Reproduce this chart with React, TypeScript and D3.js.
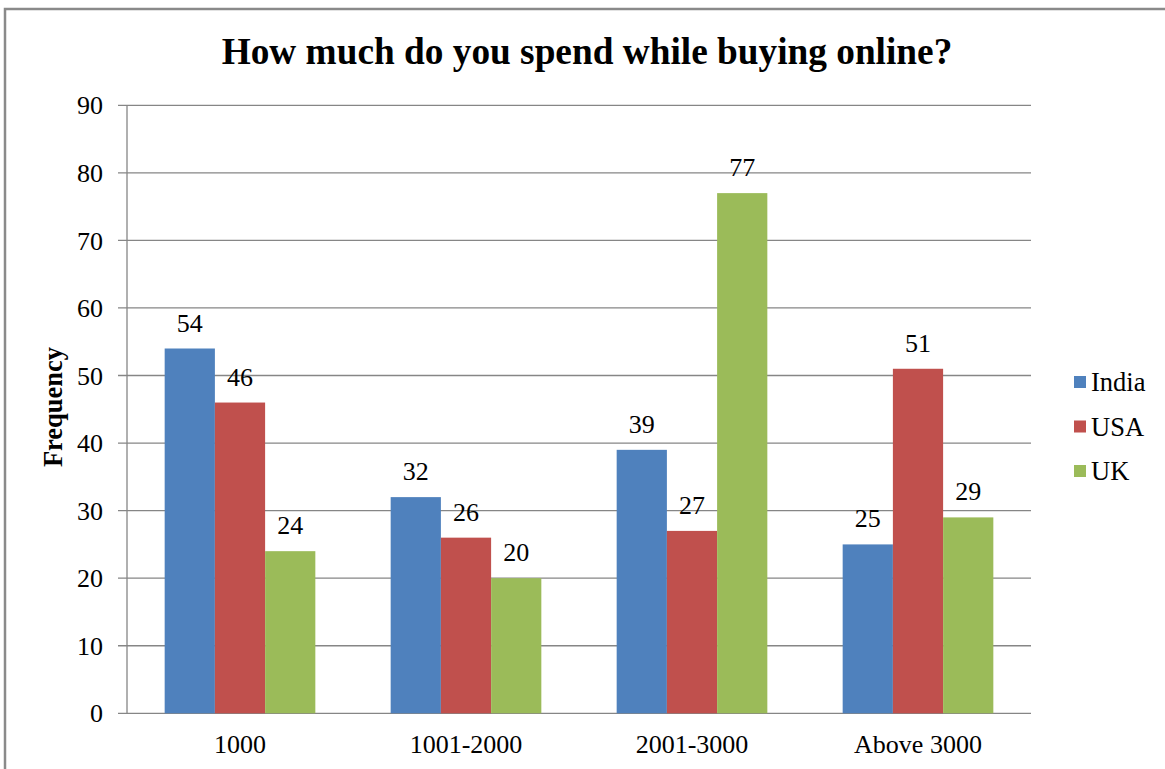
import React, { useEffect, useRef } from "react";
import * as d3 from "d3";

// chart data
const categories = ["1000", "1001-2000", "2001-3000", "Above 3000"];
const seriesNames = ["India", "USA", "UK"];
const india = [54, 32, 39, 25];
const usa = [46, 26, 27, 51];
const uk = [24, 20, 77, 29];
const yTicks = [0, 10, 20, 30, 40, 50, 60, 70, 80, 90];

const colors = ["#4F81BD", "#C0504D", "#9BBB59"];
const FONT = "'Liberation Serif', 'Times New Roman', serif";

const App = () => {
  const ref = useRef<SVGSVGElement>(null);

  useEffect(() => {
    const svg = d3.select(ref.current);
    svg.selectAll("*").remove();

    const width = 1165;
    const height = 769;
    const left = 127;
    const right = 1031;
    const top = 105.3;
    const bottom = 713.3;

    const values = [india, usa, uk];

    // outer chart border (runs off the right / bottom edges)
    svg
      .append("rect")
      .attr("x", 5)
      .attr("y", 9)
      .attr("width", width + 10)
      .attr("height", height + 10)
      .attr("fill", "#fff")
      .attr("stroke", "#8a8a8a")
      .attr("stroke-width", 2.5);

    const y = d3.scaleLinear().domain([0, 90]).range([bottom, top]);
    const x0 = d3
      .scaleBand()
      .domain(categories)
      .range([left, right])
      .paddingInner(1 / 3)
      .paddingOuter(1 / 6);
    const x1 = d3
      .scaleBand()
      .domain(seriesNames)
      .range([0, x0.bandwidth()]);

    // gridlines + tick marks
    svg
      .append("g")
      .selectAll("line")
      .data(yTicks)
      .join("line")
      .attr("x1", left - 9)
      .attr("x2", right)
      .attr("y1", (d) => y(d))
      .attr("y2", (d) => y(d))
      .attr("stroke", "#868686")
      .attr("stroke-width", 1.3);

    // y axis line
    svg
      .append("line")
      .attr("x1", left)
      .attr("x2", left)
      .attr("y1", top)
      .attr("y2", bottom)
      .attr("stroke", "#868686")
      .attr("stroke-width", 1.3);

    // y tick labels
    svg
      .append("g")
      .selectAll("text")
      .data(yTicks)
      .join("text")
      .attr("x", 103)
      .attr("y", (d) => y(d))
      .attr("dy", "0.35em")
      .attr("text-anchor", "end")
      .style("font-family", FONT)
      .style("font-size", "26px")
      .style("fill", "#000")
      .text((d) => d);

    // bars
    seriesNames.forEach((name, si) => {
      const g = svg.append("g");
      g.selectAll("rect")
        .data(values[si])
        .join("rect")
        .attr("x", (d, i) => (x0(categories[i]) as number) + (x1(name) as number))
        .attr("y", (d) => y(d))
        .attr("width", x1.bandwidth())
        .attr("height", (d) => bottom - y(d))
        .attr("fill", colors[si]);

      g.selectAll("text")
        .data(values[si])
        .join("text")
        .attr(
          "x",
          (d, i) =>
            (x0(categories[i]) as number) + (x1(name) as number) + x1.bandwidth() / 2
        )
        .attr("y", (d) => y(d) - 17)
        .attr("text-anchor", "middle")
        .style("font-family", FONT)
        .style("font-size", "26px")
        .style("fill", "#000")
        .text((d) => d);
    });

    // category labels
    svg
      .append("g")
      .selectAll("text")
      .data(categories)
      .join("text")
      .attr("x", (d) => (x0(d) as number) + x0.bandwidth() / 2)
      .attr("y", 753)
      .attr("text-anchor", "middle")
      .style("font-family", FONT)
      .style("font-size", "26px")
      .style("fill", "#000")
      .text((d) => d);

    // title
    svg
      .append("text")
      .attr("x", 587)
      .attr("y", 64)
      .attr("text-anchor", "middle")
      .style("font-family", FONT)
      .style("font-size", "37.3px")
      .style("font-weight", "bold")
      .style("fill", "#000")
      .text("How much do you spend while buying online?");

    // y axis title
    svg
      .append("text")
      .attr("transform", "translate(62, 407) rotate(-90)")
      .attr("text-anchor", "middle")
      .style("font-family", FONT)
      .style("font-size", "26.5px")
      .style("font-weight", "bold")
      .style("fill", "#000")
      .text("Frequency");

    // legend
    const legend = svg
      .append("g")
      .selectAll("g")
      .data(seriesNames)
      .join("g")
      .attr("transform", (d, i) => `translate(1074, ${382 + i * 44.5})`);
    legend
      .append("rect")
      .attr("x", 0)
      .attr("y", -6)
      .attr("width", 12)
      .attr("height", 12)
      .attr("fill", (d, i) => colors[i]);
    legend
      .append("text")
      .attr("x", 17)
      .attr("y", 0)
      .attr("dy", "0.35em")
      .style("font-family", FONT)
      .style("font-size", "26.5px")
      .style("fill", "#000")
      .text((d) => d);
  }, []);

  return (
    <svg
      ref={ref}
      width={1165}
      height={769}
      style={{ position: "absolute", left: 0, top: 0 }}
    />
  );
};

export default App;
